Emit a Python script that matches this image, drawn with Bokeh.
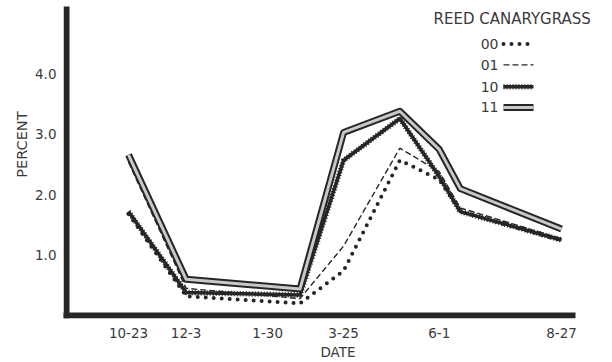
from bokeh.plotting import figure
from bokeh.models import Range1d, FixedTicker, Label, Title
from bokeh.embed import file_html
from bokeh.resources import INLINE

# Sampling dates as days after Oct 23
days = [0, 41, 122, 153, 193, 221, 236, 308]

# Axis ticks
date_ticks = [0, 41, 99, 153, 221, 308]
date_labels = ["10-23", "12-3", "1-30", "3-25", "6-1", "8-27"]
pct_ticks = [1.0, 2.0, 3.0, 4.0]

# Percent, reed canarygrass, by treatment
s00 = [1.68, 0.32, 0.20, 0.74, 2.57, 2.25, 1.72, 1.24]
s01 = [2.54, 0.45, 0.28, 1.15, 2.77, 2.38, 1.78, 1.27]
s10 = [1.72, 0.38, 0.34, 2.57, 3.26, 2.30, 1.72, 1.25]
s11 = [2.66, 0.60, 0.44, 3.03, 3.38, 2.75, 2.10, 1.43]

INK = "#262626"
TXT = "#3a3a3a"
FONT = "DejaVu Sans"

W, H = 612, 362
# plot frame, in canvas pixels
FL, FR, FT, FB = 63, 612, 0, 321
# date scale: 10-23 sits at canvas x 128, 1.406 px per day
X_ORIGIN, PX_PER_DAY = 128.0, 1.406
# percent scale: 0 sits at canvas y 318, 61 px per percent
Y_ORIGIN, PX_PER_PCT = 318.0, 61.0

X0 = (FL - X_ORIGIN) / PX_PER_DAY
X1 = (FR - X_ORIGIN) / PX_PER_DAY
Y0 = (Y_ORIGIN - FB) / PX_PER_PCT
Y1 = (Y_ORIGIN - FT) / PX_PER_PCT


def dx(px):
    """canvas x -> data x"""
    return (px - X_ORIGIN) / PX_PER_DAY


def dy(py):
    """canvas y -> data y"""
    return (Y_ORIGIN - py) / PX_PER_PCT


p = figure(width=W, height=H, output_backend="svg", toolbar_location=None,
           x_range=Range1d(X0, X1), y_range=Range1d(Y0, Y1),
           min_border_left=FL, min_border_right=W - FR,
           min_border_top=FT, min_border_bottom=H - FB)
p.outline_line_color = None
p.xgrid.visible = False
p.ygrid.visible = False
p.background_fill_color = "white"
p.border_fill_color = "white"

for ax in (p.xaxis, p.yaxis):
    ax.axis_line_color = None
    ax.major_tick_line_color = None
    ax.minor_tick_line_color = None
    ax.major_label_text_font = FONT
    ax.major_label_text_font_size = "13.5px"
    ax.major_label_text_color = TXT

p.xaxis.ticker = FixedTicker(ticks=date_ticks)
p.xaxis.major_label_overrides = {t: s for t, s in zip(date_ticks, date_labels)}
p.xaxis.major_label_standoff = 3
p.xaxis.axis_label = "DATE"
p.xaxis.axis_label_text_font = FONT
p.xaxis.axis_label_text_font_size = "13.5px"
p.xaxis.axis_label_text_font_style = "normal"
p.xaxis.axis_label_text_color = TXT
p.xaxis.axis_label_standoff = 3

p.yaxis.ticker = FixedTicker(ticks=pct_ticks)
p.yaxis.major_label_overrides = {t: f"{t:.1f}" for t in pct_ticks}
p.yaxis.major_label_standoff = 1

# vertical axis title, hung from a point part way down the left side
p.add_layout(Title(text="PERCENT", align="right", offset=111,
                   text_font=FONT, text_font_size="14.5px",
                   text_font_style="normal", text_color=TXT,
                   standoff=6), "left")

# heavy axis rules
p.segment(x0=[dx(61), dx(66)], y0=[0, 0], x1=[dx(572), dx(66)],
          y1=[0, dy(9)], line_color=INK, line_width=6, line_cap="square")


def draw_00(xs, ys):
    p.line(xs, ys, line_color=INK, line_width=4, line_dash="0 8",
           line_cap="round")


def draw_01(xs, ys):
    p.line(xs, ys, line_color=INK, line_width=1.4, line_dash="6 3")


def draw_10(xs, ys):
    p.line(xs, ys, line_color=INK, line_width=3.5, line_join="round")
    p.line(xs, ys, line_color=INK, line_width=5.5, line_dash="1 2")


def draw_11(xs, ys):
    p.line(xs, ys, line_color=INK, line_width=7, line_join="round")
    p.line(xs, ys, line_color="#c8c8c8", line_width=3, line_join="round")


draw_00(days, s00)
draw_01(days, s01)
draw_10(days, s10)
draw_11(days, s11)

# Legend block
p.add_layout(Label(x=dx(433), y=dy(19), text="REED CANARYGRASS",
                   text_font=FONT, text_font_size="15px",
                   text_color=TXT, text_baseline="middle",
                   text_align="left"))
legend_rows = [("00", draw_00, 44), ("01", draw_01, 65),
               ("10", draw_10, 87), ("11", draw_11, 108)]
for name, fn, py in legend_rows:
    p.add_layout(Label(x=dx(498), y=dy(py), text=name, text_font=FONT,
                       text_font_size="14px", text_color=TXT,
                       text_align="right", text_baseline="middle"))
    fn([dx(503), dx(533)], [dy(py), dy(py)])

open("out.html", "w").write(file_html(p, INLINE))
